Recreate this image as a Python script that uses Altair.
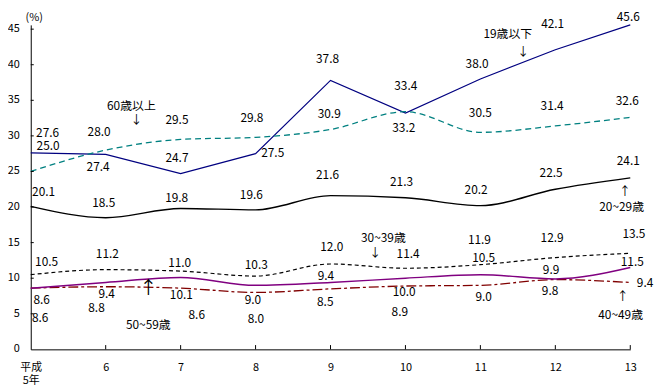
import altair as alt
import pandas as pd

years = [5, 6, 7, 8, 9, 10, 11, 12, 13]
series_names = ["19歳以下", "60歳以上", "20~29歳", "30~39歳", "40~49歳", "50~59歳"]
under19 = [27.6, 27.4, 24.7, 27.5, 37.8, 33.2, 38.0, 42.1, 45.6]
over60 = [25.0, 28.0, 29.5, 29.8, 30.9, 33.4, 30.5, 31.4, 32.6]
age20s = [20.1, 18.5, 19.8, 19.6, 21.6, 21.3, 20.2, 22.5, 24.1]
age30s = [10.5, 11.2, 11.0, 10.3, 12.0, 11.4, 11.9, 12.9, 13.5]
age40s = [8.6, 8.8, 8.6, 8.0, 8.5, 8.9, 9.0, 9.8, 9.4]
age50s = [8.6, 9.4, 10.1, 9.0, 9.4, 10.0, 10.5, 9.9, 11.5]
y_ticks = [0, 5, 10, 15, 20, 25, 30, 35, 40, 45]

values = [under19, over60, age20s, age30s, age40s, age50s]

# label offsets (pixels) relative to each data point
label_dx = [
    [17, -7.7, -3.7, 17.3, -3, -1.7, -3.3, -2.7, -2],
    [17.5, -6.7, -3.7, -3.7, -1.3, 0.3, 0, -3.3, -3],
    [13, -2, -4, -4.3, -3, -4, -4.3, -4.3, -2],
    [16, 1.7, -1, 0.7, 1.3, 2.7, -1, -3.3, 3.7],
    [9.5, -9.3, 16.3, 0.3, -5.3, -5.7, 3.3, -5.3, 15],
    [11, 1, 0.7, -2.7, -4.7, -1.3, 3.3, -4.3, 2],
]
label_dy = [
    [-20.6, 13, -15.9, -0.3, -22, 15.3, -15, -26.2, -7.5],
    [-25.3, -18.7, -19.3, -19.7, -15.2, -25.5, -19.7, -19.9, -17],
    [-14, -14.5, -10.5, -14.9, -20.5, -16, -15.6, -16.3, -17.5],
    [-13.1, -15.4, -8.5, -11.1, -16.9, -14.6, -24.6, -19.8, -19.8],
    [30.2, 21.7, 27.6, 26.6, 12.9, 26.4, 12.1, 11.9, 0.7],
    [11.9, 11.7, 17.4, 14.5, -6.6, 14.3, -16.4, -8.7, -5.9],
]

# series annotations: (series index, point index, text, dx, dy, font size)
annotations = [
    (1, 1, "60歳以上", 26, -44.5, 12),
    (1, 1, "↓", 31, -30.5, 12),
    (0, 6, "19歳以下", 27.7, -45.5, 12),
    (0, 6, "↓", 43.3, -27, 12),
    (2, 8, "20~29歳", -8.7, 29.2, 12),
    (2, 8, "↑", -5.3, 13.2, 12),
    (3, 5, "30~39歳", -22.3, -30.5, 12),
    (3, 5, "↓", -30.7, -15, 12),
    (5, 2, "50~59歳", -32.7, 48.4, 12),
    (5, 2, "↑", -32.7, 12, 18),
    (4, 8, "40~49歳", -9.7, 32.7, 12),
    (4, 8, "↑", -7.7, 13.4, 12),
]

styles = [
    dict(color="#000080", width=1.2, dash=None, interp="linear"),
    dict(color="#008080", width=1.3, dash=[6, 4], interp="monotone"),
    dict(color="#000000", width=1.4, dash=None, interp="monotone"),
    dict(color="#000000", width=1.2, dash=[4, 3], interp="monotone"),
    dict(color="#800000", width=1.3, dash=[10, 3, 3, 3], interp="monotone"),
    dict(color="#800080", width=1.5, dash=None, interp="monotone"),
]

FONT = "Noto Sans CJK JP"

x_scale = alt.Scale(domain=[5, 13], nice=False, zero=False)
y_scale = alt.Scale(domain=[0, 45.6], nice=False)

x_axis = alt.Axis(
    values=years,
    labelExpr="datum.value == 5 ? ['平成', '5年'] : format(datum.value, 'd')",
    grid=False, ticks=False, domainColor="black", labelColor="black",
    labelFont=FONT, labelFontSize=11, labelPadding=12, labelLineHeight=13,
    labelFlush=False, labelOverlap=False, title=None,
)
y_axis = alt.Axis(
    values=y_ticks, grid=False, ticks=False, labels=False, domainColor="black",
    title="(%)", titleAngle=0, titleX=3, titleY=-7, titleAlign="center",
    titleBaseline="middle", titleFont=FONT, titleFontSize=11,
    titleFontWeight="normal", titleColor="black",
)

X = alt.X("year:Q", scale=x_scale, axis=x_axis)
Y = alt.Y("value:Q", scale=y_scale, axis=y_axis)

layers = []
for i, name in enumerate(series_names):
    df = pd.DataFrame({"year": years, "value": values[i]})
    st = styles[i]
    kw = dict(color=st["color"], strokeWidth=st["width"], interpolate=st["interp"])
    if st["dash"]:
        kw["strokeDash"] = st["dash"]
    layers.append(alt.Chart(df).mark_line(**kw).encode(x=X, y=Y))

label_layers = []
for i, name in enumerate(series_names):
    for j, yr in enumerate(years):
        ldf = pd.DataFrame({"year": [yr], "value": [values[i][j]],
                            "label": [f"{values[i][j]:.1f}"]})
        label_layers.append(
            alt.Chart(ldf).mark_text(
                font=FONT, fontSize=12, color="black", align="center",
                baseline="middle", dx=label_dx[i][j], dy=label_dy[i][j]
            ).encode(x=X, y=Y, text="label:N")
        )

ann_layers = []
for (si, pj, txt, dx, dy, fs) in annotations:
    adf = pd.DataFrame({"year": [years[pj]], "value": [values[si][pj]], "t": [txt]})
    ann_layers.append(
        alt.Chart(adf).mark_text(
            font=FONT, fontSize=fs, color="black", align="center",
            baseline="middle", dx=dx, dy=dy
        ).encode(x=X, y=Y, text="t:N")
    )

tick_df = pd.DataFrame({"value": y_ticks, "year": [5] * len(y_ticks)})

xticks = alt.Chart(pd.DataFrame({"year": years[1:]})).mark_rule(
    color="black", strokeWidth=1
).encode(
    x=X,
    y=alt.datum(0),
    y2=alt.datum(0.6),
)
yticks = alt.Chart(tick_df[tick_df["value"] > 0]).mark_rule(
    color="black", strokeWidth=1
).encode(
    y=Y,
    x=alt.datum(5),
    x2=alt.datum(5.04),
)
ylabels = alt.Chart(tick_df).mark_text(
    font=FONT, fontSize=11, color="black", align="right", baseline="middle", dx=-11
).encode(
    x=X, y=Y, text=alt.Text("value:Q", format="d")
)

chart = alt.layer(*layers, xticks, yticks, ylabels, *label_layers, *ann_layers).properties(
    width=606, height=328,
    autosize=alt.AutoSizeParams(type="none"),
    padding={"left": 23, "top": 15, "right": 25, "bottom": 37},
    background="white",
).configure_view(stroke=None)

chart.save("out.html", embed_options={"renderer": "svg", "actions": False})
